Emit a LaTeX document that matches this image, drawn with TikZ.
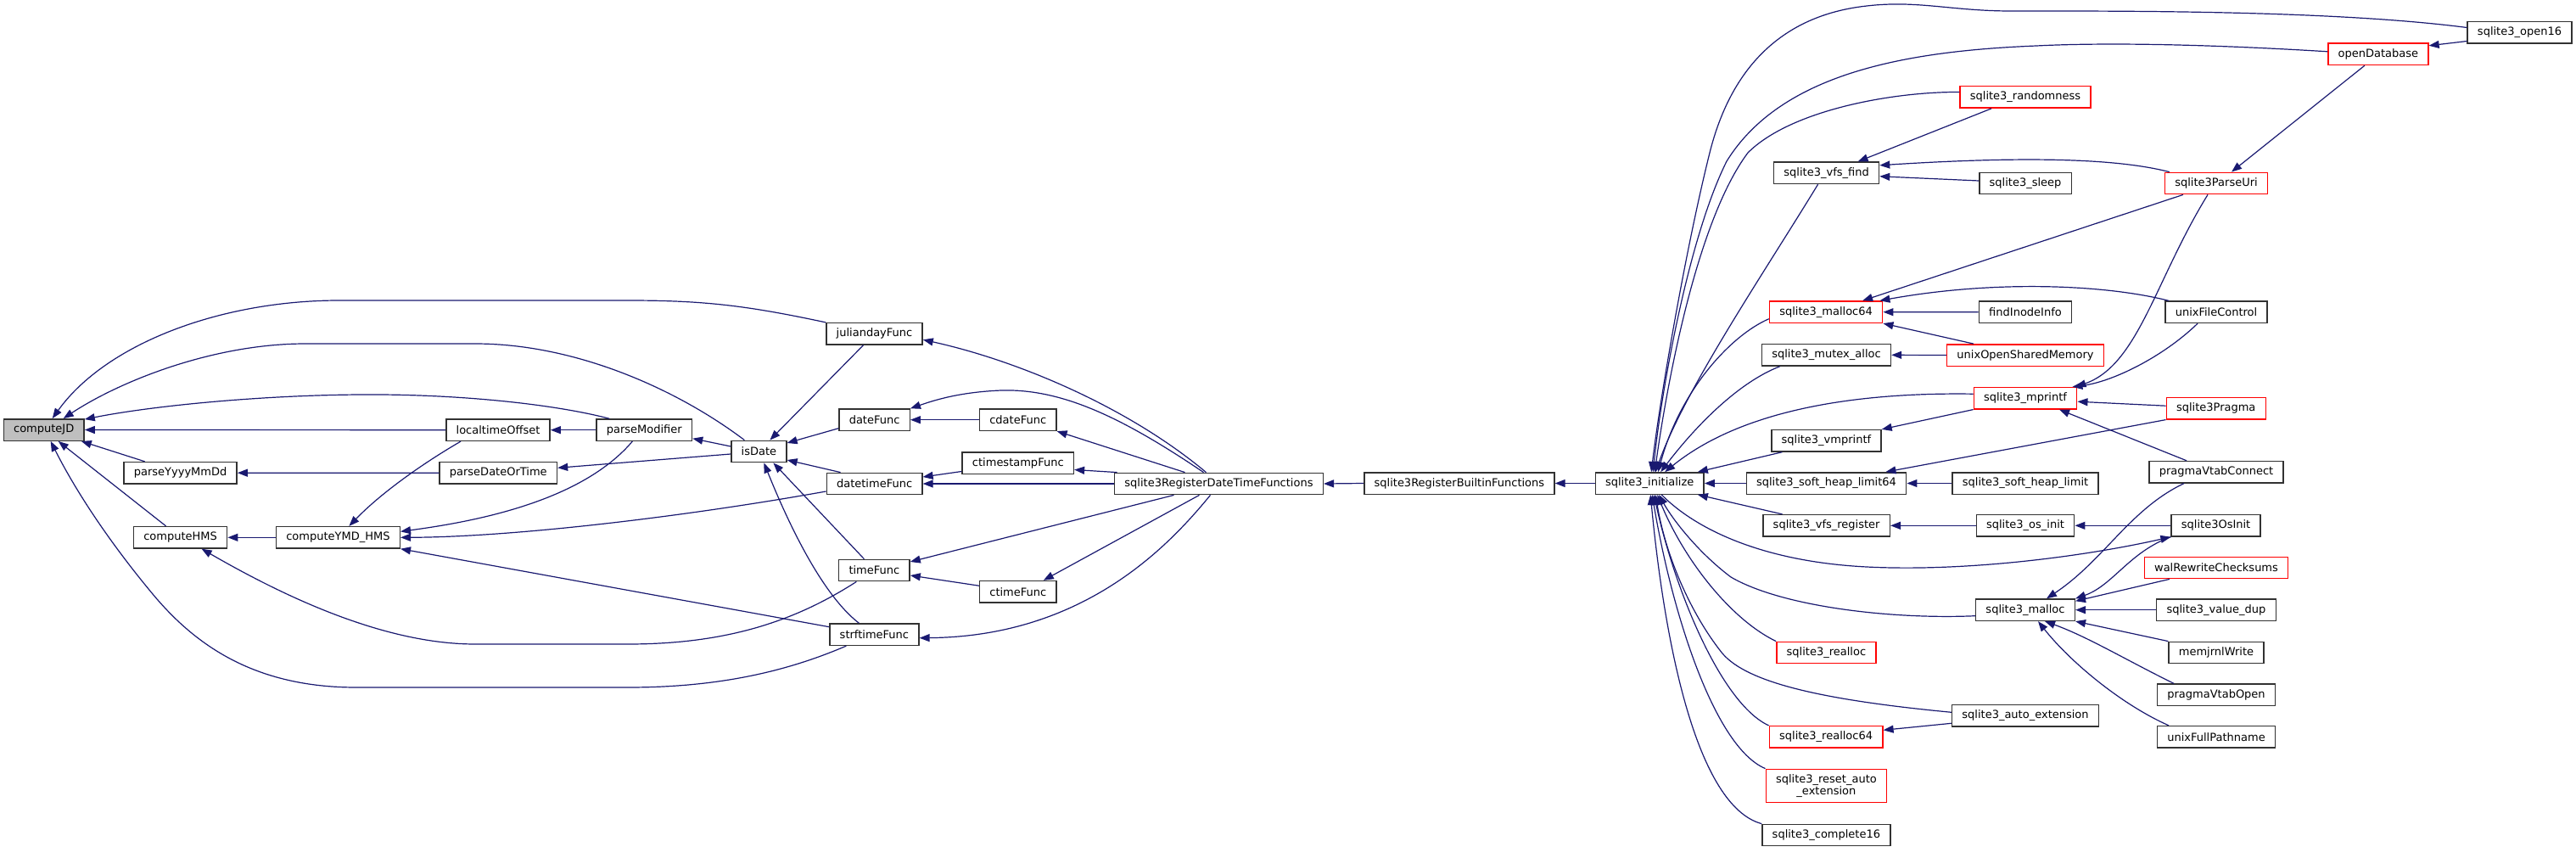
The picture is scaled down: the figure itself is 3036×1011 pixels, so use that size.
\documentclass[tikz,border=0pt]{standalone}
\usepackage{fontspec}
\setmainfont{DejaVu Sans}
\usepackage{tikz}
\usetikzlibrary{arrows.meta}
\definecolor{mynavy}{RGB}{25,25,112}
\definecolor{myred}{RGB}{255,0,0}
\definecolor{mygray}{RGB}{191,191,191}
\definecolor{mydark}{RGB}{50,50,50}
\tikzset{
  func/.style={rectangle, draw=mydark, fill=white, line width=1.4pt,
    minimum height=25.4pt, inner xsep=11.8pt, inner ysep=0pt,
    font=\fontsize{13}{14.7}\selectfont},
  redfunc/.style={func, draw=myred},
  rootfunc/.style={func, fill=mygray},
  callarrow/.style={-{Triangle[length=12pt,width=9pt]}, draw=mynavy, line width=1.2pt}
}

\begin{document}
\begin{tikzpicture}[x=1pt, y=-1pt]
  \useasboundingbox (0,0) rectangle (3036,1011);

  % date functions
  \node[rootfunc] (cjd) at (51.7,506.5) {computeJD};
  \node[func] (pymd) at (212.6,557.2) {parseYyyyMmDd};
  \node[func] (chms) at (212.6,633.3) {computeHMS};
  \node[func] (cymd) at (398.4,633.3) {computeYMD\_HMS};
  \node[func] (lto) at (587,506.7) {localtimeOffset};
  \node[func] (pdot) at (587.3,557.3) {parseDateOrTime};
  \node[func] (pmod) at (759.3,506.7) {parseModifier};
  \node[func] (isd) at (894.4,532) {isDate};
  \node[func] (jdf) at (1030.5,393.3) {juliandayFunc};
  \node[func] (dtf) at (1030.6,494.7) {dateFunc};
  \node[func] (dtmf) at (1030.6,570) {datetimeFunc};
  \node[func] (tmf) at (1030.4,672) {timeFunc};
  \node[func] (stf) at (1030.4,747.7) {strftimeFunc};
  \node[func] (cdf) at (1199.7,494.7) {cdateFunc};
  \node[func] (ctsf) at (1199.8,545.5) {ctimestampFunc};
  \node[func] (ctf) at (1199.8,697.2) {ctimeFunc};
  \node[func] (regdt) at (1436.5,570) {sqlite3RegisterDateTimeFunctions};
  \node[func] (regbi) at (1719.9,569.5) {sqlite3RegisterBuiltinFunctions};
  \node[func] (init) at (1944.2,569.5) {sqlite3\_initialize};

  % first column of callers
  \node[func] (vfsfind) at (2152.6,203.8) {sqlite3\_vfs\_find};
  \node[redfunc] (m64) at (2152.1,367.7) {sqlite3\_malloc64};
  \node[func] (mutex) at (2152.5,418.3) {sqlite3\_mutex\_alloc};
  \node[func] (vmpr) at (2152.4,519.3) {sqlite3\_vmprintf};
  \node[func] (shl64) at (2152.5,569.5) {sqlite3\_soft\_heap\_limit64};
  \node[func] (vfsreg) at (2152.6,619.3) {sqlite3\_vfs\_register};
  \node[redfunc] (realloc) at (2152.4,769) {sqlite3\_realloc};
  \node[redfunc] (realloc64) at (2152.1,868.3) {sqlite3\_realloc64};
  \node[redfunc, align=center, minimum height=39.4pt] (reset) at (2152.4,926) {sqlite3\_reset\_auto\\\_extension};
  \node[func] (cpl16) at (2152.4,984) {sqlite3\_complete16};

  % second column
  \node[redfunc] (rnd) at (2387,114.5) {sqlite3\_randomness};
  \node[func] (sleep) at (2387,216) {sqlite3\_sleep};
  \node[func] (finode) at (2387,367.8) {findInodeInfo};
  \node[redfunc] (ushm) at (2387,418.5) {unixOpenSharedMemory};
  \node[redfunc] (mpr) at (2387,469.2) {sqlite3\_mprintf};
  \node[func] (shl) at (2387,569.5) {sqlite3\_soft\_heap\_limit};
  \node[func] (osinit) at (2387,619.3) {sqlite3\_os\_init};
  \node[func] (malloc) at (2387,718.7) {sqlite3\_malloc};
  \node[func] (autoext) at (2387,843.3) {sqlite3\_auto\_extension};

  % third column
  \node[redfunc] (puri) at (2612,216) {sqlite3ParseUri};
  \node[func] (ufc) at (2612,367.8) {unixFileControl};
  \node[redfunc] (pragma) at (2611.7,481.2) {sqlite3Pragma};
  \node[func] (pvc) at (2612,556.2) {pragmaVtabConnect};
  \node[func] (osi) at (2611.6,619.3) {sqlite3OsInit};
  \node[redfunc] (wal) at (2612,669) {walRewriteChecksums};
  \node[func] (vdup) at (2612,718.7) {sqlite3\_value\_dup};
  \node[func] (mjw) at (2612,769) {memjrnlWrite};
  \node[func] (pvo) at (2612,818.7) {pragmaVtabOpen};
  \node[func] (ufp) at (2612,868.3) {unixFullPathname};
  \node[redfunc] (opendb) at (2802.9,63.8) {openDatabase};
  \node[func] (open16) at (2969.5,38.5) {sqlite3\_open16};

  % callers of computeJD
  \draw[callarrow] (jdf.north west) .. controls (880,360) and (830,354) .. (740,354) -- (400,354) .. controls (260,354) and (125,405) .. ([xshift=10pt]cjd.north);
  \draw[callarrow] ([xshift=-17pt]isd.north) .. controls (800,460) and (680,405) .. (560,405) -- (360,405) .. controls (250,405) and (140,450) .. ([xshift=23pt]cjd.north);
  \draw[callarrow] ([xshift=-41pt]pmod.north) .. controls (660,478) and (560,466) .. (450,465) .. controls (320,464) and (180,478) .. ([yshift=-1pt]cjd.north east);
  \draw[callarrow] (lto.west) -- (cjd.east);
  \draw[callarrow] ([xshift=-42pt]pymd.north) -- ([xshift=-4pt]cjd.south east);
  \draw[callarrow] ([xshift=-17pt]chms.north) -- ([xshift=17pt]cjd.south);
  \draw[callarrow] ([xshift=-33pt]stf.south) .. controls (930,790) and (850,810) .. (740,810) -- (420,810) .. controls (300,810) and (230,760) .. (180,700) .. controls (130,640) and (90,580) .. ([xshift=8pt]cjd.south);

  % helpers
  \draw[callarrow] (pdot.west) -- (pymd.east);
  \draw[callarrow] (cymd.west) -- (chms.east);
  \draw[callarrow] ([xshift=-21pt]tmf.south) .. controls (940,730) and (860,759) .. (740,759) -- (560,759) .. controls (450,759) and (330,700) .. ([xshift=25pt]chms.south);
  \draw[callarrow] ([xshift=-44pt]lto.south) .. controls (500,545) and (450,580) .. ([xshift=13pt]cymd.north);
  \draw[callarrow] ([xshift=-14pt]pmod.south) .. controls (690,585) and (580,612) .. ([yshift=7pt]cymd.east);
  \draw[callarrow] ([yshift=-9pt]dtmf.west) .. controls (800,610) and (600,633) .. (cymd.east);
  \draw[callarrow] ([yshift=9pt]stf.west) -- (cymd.south east);
  \draw[callarrow] (pmod.west) -- (lto.east);
  \draw[callarrow] ([yshift=6pt]isd.west) -- ([yshift=-10pt]pmod.east);
  \draw[callarrow] ([yshift=-3pt]isd.west) -- ([yshift=6pt]pdot.east);

  % callers of isDate
  \draw[callarrow] ([xshift=-13pt]jdf.south) -- ([xshift=13pt]isd.north);
  \draw[callarrow] ([yshift=-10pt]dtf.west) -- ([yshift=10pt]isd.east);
  \draw[callarrow] ([xshift=-40pt]dtmf.north) -- ([yshift=-10pt]isd.east);
  \draw[callarrow] ([xshift=-12pt]tmf.north) -- ([xshift=17pt]isd.south);
  \draw[callarrow] ([xshift=-18pt]stf.north) .. controls (968,700) and (928,614) .. ([xshift=6pt]isd.south);

  % sqlite3RegisterDateTimeFunctions
  \draw[callarrow] ([xshift=-15pt]regdt.north) .. controls (1330,480) and (1200,425) .. ([yshift=-7pt]jdf.east);
  \draw[callarrow] ([xshift=-18pt]regdt.north) .. controls (1320,490) and (1250,458) .. (1180,460) .. controls (1130,462) and (1100,472) .. (dtf.north east);
  \draw[callarrow] ([xshift=-40pt]regdt.north) -- (cdf.south east);
  \draw[callarrow] (cdf.west) -- (dtf.east);
  \draw[callarrow] ([xshift=-120pt]regdt.north) -- ([yshift=-8pt]ctsf.east);
  \draw[callarrow] ([yshift=-10pt]ctsf.west) -- ([yshift=8pt]dtmf.east);
  \draw[callarrow] (regdt.west) -- (dtmf.east);
  \draw[callarrow] ([xshift=-53pt]regdt.south) -- ([yshift=10pt]tmf.east);
  \draw[callarrow] ([xshift=-23pt]regdt.south) -- ([xshift=30pt]ctf.north);
  \draw[callarrow] ([yshift=7pt]ctf.west) -- ([yshift=-6pt]tmf.east);
  \draw[callarrow] ([xshift=-10pt]regdt.south) .. controls (1380,640) and (1280,750) .. ([yshift=-4pt]stf.east);
  \draw[callarrow] (regbi.west) -- (regdt.east);
  \draw[callarrow] (init.west) -- (regbi.east);

  % callers of sqlite3_initialize
  \draw[callarrow] ([yshift=6pt]open16.west) .. controls (2750,12) and (2500,13) .. (2370,13) .. controls (2300,13) and (2260,0) .. (2200,7) .. controls (2100,18) and (2040,80) .. (2015,180) .. controls (1985,300) and (1955,480) .. ([xshift=2pt]init.north);
  \draw[callarrow] ([yshift=3pt]opendb.west) .. controls (2600,52) and (2480,50) .. (2400,54) .. controls (2250,60) and (2100,85) .. (2035,190) .. controls (1990,280) and (1958,460) .. ([xshift=4pt]init.north);
  \draw[callarrow] ([yshift=6pt]rnd.west) .. controls (2230,108) and (2110,130) .. (2060,180) .. controls (2000,260) and (1965,450) .. ([xshift=6pt]init.north);
  \draw[callarrow] ([xshift=-10pt]vfsfind.south) .. controls (2080,320) and (1985,460) .. ([xshift=7pt]init.north);
  \draw[callarrow] ([yshift=-8pt]m64.west) .. controls (2040,395) and (1980,460) .. ([xshift=10pt]init.north);
  \draw[callarrow] ([xshift=22pt]mutex.south west) .. controls (2050,450) and (2000,500) .. ([xshift=13pt]init.north);
  \draw[callarrow] ([yshift=5pt]mpr.west) .. controls (2180,462) and (2050,485) .. ([xshift=18pt]init.north);
  \draw[callarrow] ([xshift=-52pt]vmpr.south) -- ([xshift=-8pt]init.north east);
  \draw[callarrow] (shl64.west) -- (init.east);
  \draw[callarrow] ([xshift=-52pt]vfsreg.north) -- ([xshift=-8pt]init.south east);
  \draw[callarrow] ([yshift=-7pt]malloc.west) .. controls (2230,730) and (2100,715) .. (2040,680) .. controls (2000,650) and (1970,610) .. ([xshift=11pt]init.south);
  \draw[callarrow] (realloc.north west) .. controls (2040,730) and (1985,660) .. ([xshift=9pt]init.south);
  \draw[callarrow] ([yshift=4pt]autoext.west) .. controls (2150,825) and (2060,805) .. (2030,770) .. controls (1990,720) and (1962,650) .. ([xshift=7pt]init.south);
  \draw[callarrow] (realloc64.north west) .. controls (2030,830) and (1975,700) .. ([xshift=5pt]init.south);
  \draw[callarrow] (reset.north west) .. controls (2020,880) and (1970,720) .. ([xshift=3pt]init.south);
  \draw[callarrow] (cpl16.north west) .. controls (2000,950) and (1962,760) .. ([xshift=1pt]init.south);
  \draw[callarrow] ([xshift=14pt]init.south) .. controls (2000,625) and (2080,662) .. (2200,668) .. controls (2320,674) and (2460,655) .. (osi.south west);

  % remaining callers
  \draw[callarrow] ([yshift=-10pt]open16.west) -- ([yshift=10pt]opendb.east);
  \draw[callarrow] ([xshift=-16pt]opendb.south) -- ([xshift=18pt]puri.north);
  \draw[callarrow] ([xshift=-40pt]rnd.south) -- ([xshift=37pt]vfsfind.north);
  \draw[callarrow] ([xshift=6pt]puri.north west) .. controls (2500,188) and (2400,183) .. ([yshift=9pt]vfsfind.east);
  \draw[callarrow] ([yshift=3pt]sleep.west) -- ([yshift=-4pt]vfsfind.east);
  \draw[callarrow] ([xshift=-39pt]puri.south) -- ([xshift=43pt]m64.north);
  \draw[callarrow] ([xshift=5pt]ufc.north west) .. controls (2480,335) and (2350,330) .. ([xshift=-4pt]m64.north east);
  \draw[callarrow] (finode.west) -- (m64.east);
  \draw[callarrow] ([xshift=32pt]ushm.north west) -- (m64.south east);
  \draw[callarrow] (ushm.west) -- (mutex.east);
  \draw[callarrow] ([xshift=-10pt]puri.south) .. controls (2540,330) and (2520,430) .. ([xshift=-2pt]mpr.north east);
  \draw[callarrow] ([xshift=-22pt]ufc.south) .. controls (2550,420) and (2490,450) .. ([xshift=-6pt]mpr.north east);
  \draw[callarrow] ([yshift=3pt]pragma.west) -- ([yshift=-4pt]mpr.east);
  \draw[callarrow] ([xshift=-35pt]pvc.north) -- ([xshift=40pt]mpr.south);
  \draw[callarrow] (mpr.south west) -- (vmpr.north east);
  \draw[callarrow] (pragma.south west) -- ([xshift=-25pt]shl64.north east);
  \draw[callarrow] (shl.west) -- (shl64.east);
  \draw[callarrow] (osinit.west) -- (vfsreg.east);
  \draw[callarrow] (osi.west) -- (osinit.east);
  \draw[callarrow] (osi.south west) .. controls (2510,650) and (2490,690) .. (malloc.north east);
  \draw[callarrow] ([xshift=-38pt]pvc.south) .. controls (2510,600) and (2480,660) .. ([xshift=25pt]malloc.north);
  \draw[callarrow] ([xshift=-55pt]wal.south) -- ([yshift=-3pt]malloc.north east);
  \draw[callarrow] (vdup.west) -- (malloc.east);
  \draw[callarrow] (mjw.north west) -- (malloc.south east);
  \draw[callarrow] ([xshift=-50pt]pvo.north) .. controls (2510,780) and (2460,750) .. ([xshift=23pt]malloc.south);
  \draw[callarrow] ([xshift=-56pt]ufp.north) .. controls (2500,830) and (2440,780) .. ([xshift=15pt]malloc.south);
  \draw[callarrow] ([yshift=-9pt]autoext.west) -- ([yshift=8pt]realloc64.east);
\end{tikzpicture}
\end{document}
